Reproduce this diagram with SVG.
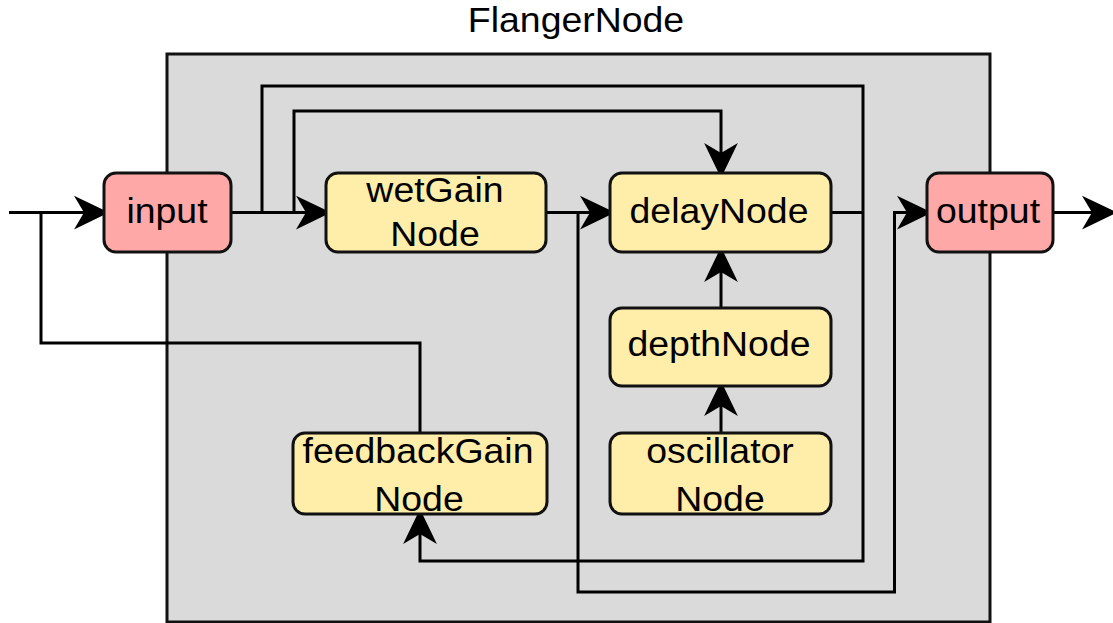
<svg xmlns="http://www.w3.org/2000/svg" width="1113" height="623" viewBox="0 0 1113 623">
  <style>
    .box { stroke: #111; stroke-width: 3; }
    .io { fill: #ffa8a8; }
    .proc { fill: #ffedaa; }
    .lbl { font-family: "Liberation Sans", Arial, Helvetica, sans-serif; font-size: 34.5px; fill: #000; text-anchor: middle; }
    .wire { fill: none; stroke: #000; stroke-width: 3; stroke-linejoin: miter; }
    .arrow { marker-end: url(#head); }
  </style>
  <defs>
    <!-- classic notched arrowhead; origin sits at the notch, tip 20px ahead -->
    <marker id="head" markerUnits="userSpaceOnUse" markerWidth="40" markerHeight="40" viewBox="-10 -15 32 30" refX="0" refY="0" orient="auto" overflow="visible">
      <path d="M20,0 L-8,-13.5 L0,0 L-8,13.5 Z" fill="#000"/>
    </marker>
  </defs>

  <rect width="1113" height="623" fill="#fff"/>

  <!-- enclosing FlangerNode container -->
  <g id="flangerNode">
    <rect x="167" y="54" width="823" height="568" fill="#dadada" stroke="#111" stroke-width="3"/>
    <text class="lbl" transform="translate(576,32) scale(1.085,1)">FlangerNode</text>
  </g>

  <!-- connectors -->
  <g id="connectors">
    <path class="wire arrow" d="M9,212.5 H84"/>
    <path class="wire" d="M420,433 V343 H41 V212.5"/>
    <path class="wire arrow" d="M231,212.5 H306"/>
    <path class="wire arrow" d="M231,212.5 H294 V111 H721 V153"/>
    <path class="wire arrow" d="M231,212.5 H262 V86 H863 V561 H420 V534"/>
    <path class="wire" d="M831,212.5 H863"/>
    <path class="wire arrow" d="M546,212.5 H590"/>
    <path class="wire arrow" d="M546,212.5 H578 V592 H894.5 V212.5 H907"/>
    <path class="wire arrow" d="M1053,212.5 H1092"/>
    <path class="wire arrow" d="M721,308 V272"/>
    <path class="wire arrow" d="M721,433 V406"/>
  </g>

  <g id="input">
    <rect class="box io" x="104" y="173" width="127" height="79" rx="12"/>
    <text class="lbl" transform="translate(167,222.5) scale(1.085,1)">input</text>
  </g>

  <g id="wetGainNode">
    <rect class="box proc" x="326" y="173" width="220" height="79" rx="12"/>
    <text class="lbl" transform="translate(435,202) scale(1.085,1)">wetGain</text>
    <text class="lbl" transform="translate(435,246) scale(1.085,1)">Node</text>
  </g>

  <g id="delayNode">
    <rect class="box proc" x="610" y="173" width="221" height="79" rx="12"/>
    <text class="lbl" transform="translate(719,223) scale(1.085,1)">delayNode</text>
  </g>

  <g id="output">
    <rect class="box io" x="927" y="173" width="126" height="79" rx="12"/>
    <text class="lbl" transform="translate(988,223) scale(1.085,1)">output</text>
  </g>

  <g id="depthNode">
    <rect class="box proc" x="610" y="308" width="221" height="78" rx="12"/>
    <text class="lbl" transform="translate(719,356) scale(1.085,1)">depthNode</text>
  </g>

  <g id="feedbackGainNode">
    <rect class="box proc" x="293" y="433" width="254" height="81" rx="12"/>
    <text class="lbl" transform="translate(418,462.5) scale(1.085,1)">feedbackGain</text>
    <text class="lbl" transform="translate(419,510.5) scale(1.085,1)">Node</text>
  </g>

  <g id="oscillatorNode">
    <rect class="box proc" x="610" y="433" width="221" height="81" rx="12"/>
    <text class="lbl" transform="translate(720,462.5) scale(1.085,1)">oscillator</text>
    <text class="lbl" transform="translate(720,510.5) scale(1.085,1)">Node</text>
  </g>
</svg>
